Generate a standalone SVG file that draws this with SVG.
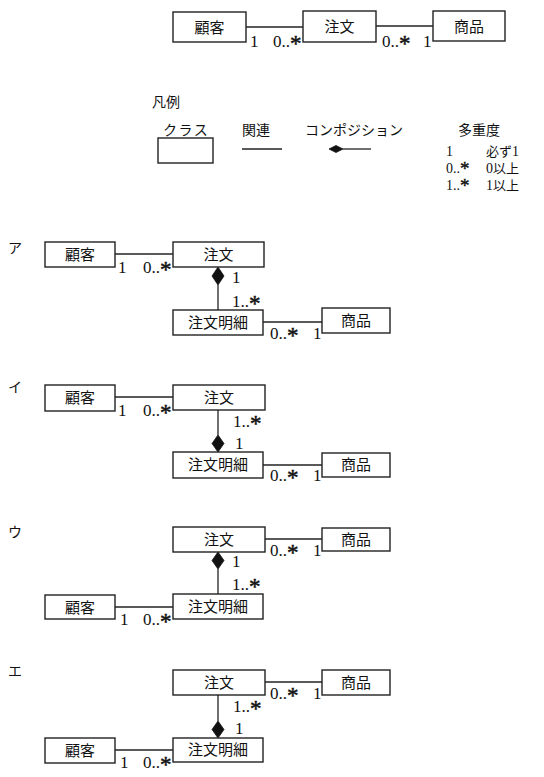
<svg xmlns="http://www.w3.org/2000/svg" width="544" height="777" viewBox="0 0 544 777">
<defs>
<style>
.box{fill:#fff;stroke:#222;stroke-width:1.4}
.ln{stroke:#222;stroke-width:1.3;fill:none}
.dia{fill:#111;stroke:#111;stroke-width:0.8}
text{font-family:"Liberation Serif","Noto Sans CJK JP",serif;fill:#111}
.cls{font-size:15px;text-anchor:middle}
.m{font-size:17px}
.a{font-size:23px;stroke:#111;stroke-width:0.5}
.lg{font-size:14px}
.ms{font-size:14px}
.mj{font-size:13px}
.as{font-size:19px;stroke:#111;stroke-width:0.4}
</style>
</defs>
<rect width="544" height="777" fill="#fff"/>

<g id="connectors">
<line class="ln" x1="246" y1="27" x2="303" y2="27"/>
<line class="ln" x1="376" y1="26" x2="433" y2="26"/>
<line class="ln" x1="115" y1="254" x2="173" y2="254"/>
<line class="ln" x1="218" y1="285" x2="218" y2="310"/>
<polygon class="dia" points="218,267 224,276 218,285 212,276"/>
<line class="ln" x1="263" y1="322" x2="322" y2="322"/>
<line class="ln" x1="115" y1="397" x2="173" y2="397"/>
<line class="ln" x1="218" y1="410" x2="218" y2="435"/>
<polygon class="dia" points="218,435 224,443.5 218,452 212,443.5"/>
<line class="ln" x1="263" y1="465" x2="322" y2="465"/>
<line class="ln" x1="265" y1="539" x2="322" y2="539"/>
<polygon class="dia" points="218,552 224,560.5 218,569 212,560.5"/>
<line class="ln" x1="218" y1="569" x2="218" y2="594"/>
<line class="ln" x1="115" y1="607" x2="173" y2="607"/>
<line class="ln" x1="265" y1="682" x2="322" y2="682"/>
<line class="ln" x1="218" y1="695" x2="218" y2="721"/>
<polygon class="dia" points="218,721 224,729.5 218,738 212,729.5"/>
<line class="ln" x1="115" y1="750" x2="173" y2="750"/>
</g>

<g id="top-customer"><rect class="box" x="173" y="12" width="73" height="30"/><text class="cls" x="209.5" y="33">顧客</text></g>
<g id="top-order"><rect class="box" x="303" y="11" width="73" height="31"/><text class="cls" x="339.5" y="32">注文</text></g>
<g id="top-product"><rect class="box" x="433" y="11" width="72" height="30"/><text class="cls" x="469" y="32">商品</text></g>
<g id="top-labels">
<text class="m" x="250" y="47">1</text>
<text class="m" x="273" y="47">0..<tspan class="a" dy="4">*</tspan></text>
<text class="m" x="382" y="47">0..<tspan class="a" dy="4">*</tspan></text>
<text class="m" x="423" y="47">1</text>
</g>

<g id="legend">
<text class="lg" x="152" y="107">凡例</text>
<text class="lg" x="163" y="135" letter-spacing="1.5">クラス</text>
<rect class="box" x="158" y="138" width="55" height="25"/>
<text class="lg" x="242" y="135">関連</text>
<line class="ln" x1="242" y1="149" x2="282" y2="149"/>
<text class="lg" x="305" y="135">コンポジション</text>
<polygon class="dia" points="329,149 336,145.5 343,149 336,152.5"/>
<line class="ln" x1="343" y1="149" x2="371" y2="149"/>
<text class="lg" x="458" y="135">多重度</text>
<text class="ms" x="446" y="156">1</text>
<text class="mj" x="486" y="156">必ず<tspan class="ms">1</tspan></text>
<text class="ms" x="446" y="173">0..<tspan class="as" dy="2">*</tspan></text>
<text class="ms" x="486" y="173">0<tspan class="mj">以上</tspan></text>
<text class="ms" x="446" y="190">1..<tspan class="as" dy="2">*</tspan></text>
<text class="ms" x="486" y="190">1<tspan class="mj">以上</tspan></text>
</g>

<g id="a-label"><text class="lg" x="8" y="253">ア</text></g>
<g id="a-customer"><rect class="box" x="45" y="242" width="70" height="25"/><text class="cls" x="80" y="260">顧客</text></g>
<g id="a-order"><rect class="box" x="173" y="242" width="91" height="25"/><text class="cls" x="218.5" y="260">注文</text></g>
<g id="a-detail"><rect class="box" x="173" y="310" width="90" height="25"/><text class="cls" x="218" y="328">注文明細</text></g>
<g id="a-product"><rect class="box" x="322" y="308" width="68" height="25"/><text class="cls" x="356" y="326">商品</text></g>
<g id="a-labels">
<text class="m" x="118" y="273">1</text>
<text class="m" x="143" y="273">0..<tspan class="a" dy="4">*</tspan></text>
<text class="m" x="232" y="283">1</text>
<text class="m" x="232" y="307">1..<tspan class="a" dy="4">*</tspan></text>
<text class="m" x="270" y="339">0..<tspan class="a" dy="4">*</tspan></text>
<text class="m" x="313" y="339">1</text>
</g>

<g id="i-label"><text class="lg" x="8" y="392">イ</text></g>
<g id="i-customer"><rect class="box" x="45" y="385" width="70" height="26"/><text class="cls" x="80" y="403">顧客</text></g>
<g id="i-order"><rect class="box" x="173" y="385" width="92" height="25"/><text class="cls" x="219" y="403">注文</text></g>
<g id="i-detail"><rect class="box" x="173" y="452" width="90" height="26"/><text class="cls" x="218" y="470">注文明細</text></g>
<g id="i-product"><rect class="box" x="322" y="453" width="68" height="24"/><text class="cls" x="356" y="470">商品</text></g>
<g id="i-labels">
<text class="m" x="118" y="416">1</text>
<text class="m" x="143" y="416">0..<tspan class="a" dy="4">*</tspan></text>
<text class="m" x="233" y="427">1..<tspan class="a" dy="4">*</tspan></text>
<text class="m" x="235" y="449">1</text>
<text class="m" x="270" y="481">0..<tspan class="a" dy="4">*</tspan></text>
<text class="m" x="313" y="481">1</text>
</g>

<g id="u-label"><text class="lg" x="8" y="537">ウ</text></g>
<g id="u-order"><rect class="box" x="173" y="527" width="92" height="25"/><text class="cls" x="219" y="545">注文</text></g>
<g id="u-product"><rect class="box" x="322" y="528" width="68" height="23"/><text class="cls" x="356" y="545">商品</text></g>
<g id="u-detail"><rect class="box" x="173" y="594" width="90" height="25"/><text class="cls" x="218" y="612">注文明細</text></g>
<g id="u-customer"><rect class="box" x="45" y="595" width="70" height="24"/><text class="cls" x="80" y="613">顧客</text></g>
<g id="u-labels">
<text class="m" x="270" y="556">0..<tspan class="a" dy="4">*</tspan></text>
<text class="m" x="313" y="556">1</text>
<text class="m" x="232" y="567">1</text>
<text class="m" x="232" y="590">1..<tspan class="a" dy="4">*</tspan></text>
<text class="m" x="120" y="625">1</text>
<text class="m" x="143" y="625">0..<tspan class="a" dy="4">*</tspan></text>
</g>

<g id="e-label"><text class="lg" x="8" y="676">エ</text></g>
<g id="e-order"><rect class="box" x="173" y="670" width="92" height="25"/><text class="cls" x="219" y="688">注文</text></g>
<g id="e-product"><rect class="box" x="322" y="670" width="68" height="25"/><text class="cls" x="356" y="688">商品</text></g>
<g id="e-detail"><rect class="box" x="173" y="738" width="90" height="24"/><text class="cls" x="218" y="755">注文明細</text></g>
<g id="e-customer"><rect class="box" x="45" y="738" width="70" height="25"/><text class="cls" x="80" y="756">顧客</text></g>
<g id="e-labels">
<text class="m" x="270" y="699">0..<tspan class="a" dy="4">*</tspan></text>
<text class="m" x="313" y="699">1</text>
<text class="m" x="233" y="712">1..<tspan class="a" dy="4">*</tspan></text>
<text class="m" x="235" y="734">1</text>
<text class="m" x="120" y="768">1</text>
<text class="m" x="143" y="768">0..<tspan class="a" dy="4">*</tspan></text>
</g>
</svg>
